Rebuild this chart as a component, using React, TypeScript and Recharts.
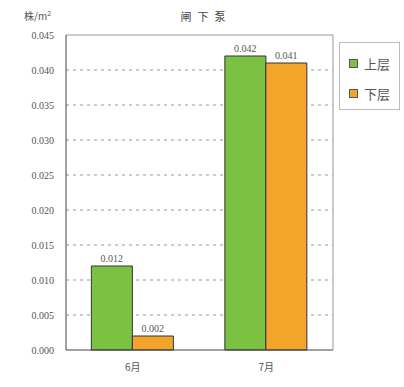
import React from 'react';
import { BarChart, Bar, XAxis, YAxis, CartesianGrid, LabelList } from 'recharts';

const months = ['6月', '7月'];
const upperLayer = [0.012, 0.042];
const lowerLayer = [0.002, 0.041];
const yTicks = [0, 0.005, 0.01, 0.015, 0.02, 0.025, 0.03, 0.035, 0.04, 0.045];
// interior grid lines only; the frame covers 0 and 0.045
const gridValues = yTicks.slice(1, -1);

const seriesNames = ['上层', '下层'];
const colors = ['#7cc242', '#f3a42a'];

const data = months.map((m, i) => ({ month: m, upper: upperLayer[i], lower: lowerLayer[i] }));

const font = '"Liberation Serif", "Noto Sans CJK SC", serif';
const cjk = '"Noto Sans CJK SC", serif';

const fmt = (v: number) => v.toFixed(3);

function LegendBox() {
  return (
    <div style={{ position: 'absolute', left: 339, top: 42, border: '1px solid #bbb', width: 61, height: 68, boxSizing: 'border-box', paddingTop: 10, background: '#fff' }}>
      {seriesNames.map((name, i) => (
        <div key={name} style={{ display: 'flex', alignItems: 'center', height: 20, marginBottom: i === 0 ? 10 : 0, paddingLeft: 9 }}>
          <div style={{ width: 7, height: 7, border: '1px solid #555', background: colors[i], marginRight: 6 }} />
          <span style={{ fontFamily: cjk, fontSize: 13, color: '#555' }}>{name}</span>
        </div>
      ))}
    </div>
  );
}

export default function App() {
  return (
    <div style={{ position: 'absolute', left: 0, top: 0, width: 404, height: 387, background: '#fff' }}>
      <div style={{ position: 'absolute', left: 0, width: 404, top: 8, textAlign: 'center', fontFamily: cjk, fontSize: 11, color: '#444', letterSpacing: 6, paddingLeft: 4 }}>
        闸下泵
      </div>
      <div style={{ position: 'absolute', left: 24, top: 8, fontFamily: cjk, fontSize: 10, color: '#555' }}>
        株/m<sup style={{ fontSize: 7 }}>2</sup>
      </div>
      <BarChart
        width={404}
        height={387}
        data={data}
        margin={{ top: 34, right: 70, bottom: 17, left: 8 }}
        barCategoryGap="19%"
        barGap={0}
      >
        <CartesianGrid vertical={false} yAxisId="left" horizontalValues={gridValues} stroke="#999" strokeDasharray="3 4" />
        <XAxis
          dataKey="month"
          xAxisId="bottom"
          height={20}
          axisLine={{ stroke: '#444' }}
          tickLine={false}
          tick={{ fontFamily: cjk, fontSize: 10, fill: '#555' }}
          tickMargin={8}
        />
        <XAxis dataKey="month" xAxisId="top" orientation="top" height={1} axisLine={{ stroke: '#999' }} tickLine={false} tick={false} />
        <YAxis
          yAxisId="left"
          width={58}
          domain={[0, 0.045]}
          ticks={yTicks}
          tickFormatter={fmt}
          axisLine={{ stroke: '#444' }}
          tickLine={false}
          tick={{ fontFamily: font, fontSize: 10, fill: '#555' }}
          tickMargin={6}
        />
        <YAxis yAxisId="right" orientation="right" width={1} domain={[0, 0.045]} axisLine={{ stroke: '#999' }} tickLine={false} tick={false} />
        <Bar dataKey="upper" name={seriesNames[0]} xAxisId="bottom" yAxisId="left" fill={colors[0]} stroke="#333" strokeWidth={1} isAnimationActive={false}>
          <LabelList dataKey="upper" position="top" formatter={(v: any) => fmt(Number(v))} style={{ fontFamily: font, fontSize: 10, fill: '#555' }} offset={4} />
        </Bar>
        <Bar dataKey="lower" name={seriesNames[1]} xAxisId="bottom" yAxisId="left" fill={colors[1]} stroke="#333" strokeWidth={1} isAnimationActive={false}>
          <LabelList dataKey="lower" position="top" formatter={(v: any) => fmt(Number(v))} style={{ fontFamily: font, fontSize: 10, fill: '#555' }} offset={4} />
        </Bar>
      </BarChart>
      <LegendBox />
    </div>
  );
}
